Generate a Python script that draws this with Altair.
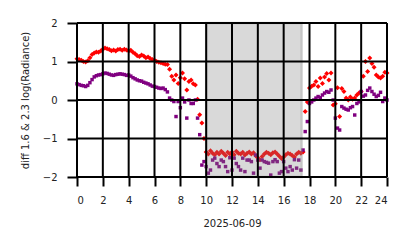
import altair as alt
import pandas as pd

# 10-minute sampling over the day (hours)
hours = [i / 6 for i in range(145)]

red_vals = [
    1.07, 1.05, 1.03, 1.00, 0.99, 1.02, 1.10, 1.18, 1.22, 1.25,
    1.24, 1.27, 1.32, 1.35, 1.33, 1.31, 1.28, 1.30, 1.27, 1.31,
    1.32, 1.29, 1.32, 1.30, 1.27, 1.29, 1.24, 1.20, 1.15, 1.13,
    1.17, 1.14, 1.10, 1.12, 1.08, 1.05, 1.03, 1.00, 0.98, 0.97,
    0.95, 0.93, 0.92, 0.80, 0.62, 0.52, 0.65, 0.43, 0.58, 0.70,
    0.55, 0.26, 0.48, 0.52, 0.42, 0.39, 0.02, -0.38, -0.60, -1.00,
    -1.35, -1.40, -1.32, -1.38, -1.42, -1.36, -1.40, -1.33, -1.38, -1.44,
    -1.36, -1.40, -1.35, -1.42, -1.33, -1.38, -1.40, -1.36, -1.43, -1.38,
    -1.35, -1.40, -1.37, -1.45, -1.50, -1.55, -1.47, -1.40, -1.36, -1.38,
    -1.42, -1.37, -1.35, -1.40, -1.46, -1.52, -1.48, -1.42, -1.38, -1.40,
    -1.44, -1.48, -1.40, -1.36, -1.38, -1.35,
    -0.30, -0.05, 0.31, 0.36, 0.39, 0.48, 0.35, 0.57, 0.43, 0.60,
    0.69, 0.52, 0.70, -0.13, -0.10, 0.32, -0.43, 0.30, 0.22, 0.05,
    0.00, 0.08, 0.02, 0.05, 0.13, 0.18, 0.22, 0.62, 1.00, 0.74,
    1.09, 0.95, 0.85, 0.65, 0.60, 0.57, 0.62, 0.72, 0.70,
]

purple_vals = [
    0.42, 0.40, 0.38, 0.37, 0.35, 0.38, 0.45, 0.53, 0.60, 0.63,
    0.65, 0.66, 0.68, 0.70, 0.69, 0.67, 0.65, 0.64, 0.66, 0.67,
    0.68, 0.67, 0.66, 0.64, 0.65, 0.62, 0.58, 0.55, 0.52, 0.50,
    0.49, 0.46, 0.44, 0.42, 0.39, 0.36, 0.35, 0.33, 0.31, 0.30,
    0.31, 0.27, 0.21, 0.05, 0.00, -0.04, -0.43, -0.04, -0.20, 0.05,
    -0.05, -0.47, 0.00, -0.09, -0.09, 0.00, -0.47, -0.90, -1.69, -1.60,
    -1.73, -1.90, -1.82, -1.56, -1.51, -1.65, -1.73, -1.56, -1.60, -1.73,
    -1.86, -1.50, -1.82, -1.51, -1.65, -1.73, -1.82, -1.51, -1.86, -1.56,
    -1.56, -1.60, -1.90, -1.43, -1.56, -1.77, -1.56, -1.60, -1.62, -1.64,
    -1.95, -1.60, -1.55, -1.60, -1.90, -1.86, -1.60, -1.77, -1.86, -1.73,
    -1.82, -1.55, -1.77, -1.56, -1.82, -1.30,
    -0.82, -0.56, -0.09, -0.05, 0.00, 0.05, 0.09, 0.06, 0.13, 0.18,
    0.22, 0.20, 0.26, 0.00, -0.47, -0.73, -0.78, -0.17, -0.21, -0.24,
    -0.26, -0.20, -0.17, -0.39, -0.09, -0.05, 0.22, 0.10, 0.13, 0.25,
    0.31, 0.22, 0.15, 0.09, 0.12, 0.20, -0.04, 0.05, 0.00,
]

shade_start = [10.0]
shade_end = [17.4]

x_ticks = list(range(0, 25, 2))
y_ticks = [-2, -1, 0, 1, 2]

red_df = pd.DataFrame({"hour": hours, "val": red_vals})
purple_df = pd.DataFrame({"hour": hours, "val": purple_vals})
shade_df = pd.DataFrame({"start": shade_start, "end": shade_end})
xgrid_df = pd.DataFrame({"tick": x_ticks})
ygrid_df = pd.DataFrame({"tick": y_ticks})

FONT = "DejaVu Sans"

xscale = alt.Scale(domain=[0, 24], nice=False, zero=False)
yscale = alt.Scale(domain=[-2, 2], nice=False, zero=False)

xaxis = alt.Axis(
    values=x_ticks, title="2025-06-09", grid=False, ticks=True, tickSize=9,
    tickColor="black", tickWidth=2, domain=False,
    labelPadding=9, labelOverlap=False, format="d",
    labelFont=FONT, labelFontSize=10, labelColor="#222222",
    titleFont=FONT, titleFontSize=10, titleFontWeight="normal",
    titleColor="#222222", titleY=41, titleBaseline="top",
)
yaxis = alt.Axis(
    values=y_ticks, title="diff 1.6 & 2.3  log(Radiance)", grid=False,
    ticks=True, tickSize=10, tickColor="black", tickWidth=2, domain=False,
    labelPadding=10, labelOverlap=False, format="d",
    labelFont=FONT, labelFontSize=10, labelColor="#222222",
    titleFont=FONT, titleFontSize=10, titleFontWeight="normal",
    titleColor="#222222", titlePadding=12,
)

red = alt.Chart(red_df).mark_point(
    shape="diamond", filled=True, color="#ff0000", size=25, opacity=1
).encode(
    x=alt.X("hour:Q", scale=xscale, axis=xaxis),
    y=alt.Y("val:Q", scale=yscale, axis=yaxis),
)

purple = alt.Chart(purple_df).mark_point(
    shape="square", filled=True, color="#800080", size=12, opacity=1
).encode(
    x=alt.X("hour:Q", scale=xscale, axis=xaxis),
    y=alt.Y("val:Q", scale=yscale, axis=yaxis),
)

shade = alt.Chart(shade_df).mark_rect(
    color="gray", fillOpacity=0.3, stroke="gray", strokeOpacity=0.3,
    strokeWidth=2.5
).encode(
    x=alt.X("start:Q", scale=xscale, axis=xaxis),
    x2="end:Q",
    y=alt.value(0),
    y2=alt.value(154),
)

xgrid = alt.Chart(xgrid_df).mark_rule(color="black", strokeWidth=2).encode(
    x=alt.X("tick:Q", scale=xscale, axis=xaxis),
)
ygrid = alt.Chart(ygrid_df).mark_rule(color="black", strokeWidth=2).encode(
    y=alt.Y("tick:Q", scale=yscale, axis=yaxis),
)

chart = alt.layer(red, purple, shade, xgrid, ygrid).properties(
    width=310, height=154,
    autosize=alt.AutoSizeParams(type="none"),
    padding={"left": 77, "top": 23, "right": 27, "bottom": 71},
).configure_view(stroke=None).configure_axisY(
    tickSize=10, labelPadding=10, ticks=True, tickColor="black", tickWidth=2,
)

chart.save("out.html", embed_options={"renderer": "svg", "actions": False})
